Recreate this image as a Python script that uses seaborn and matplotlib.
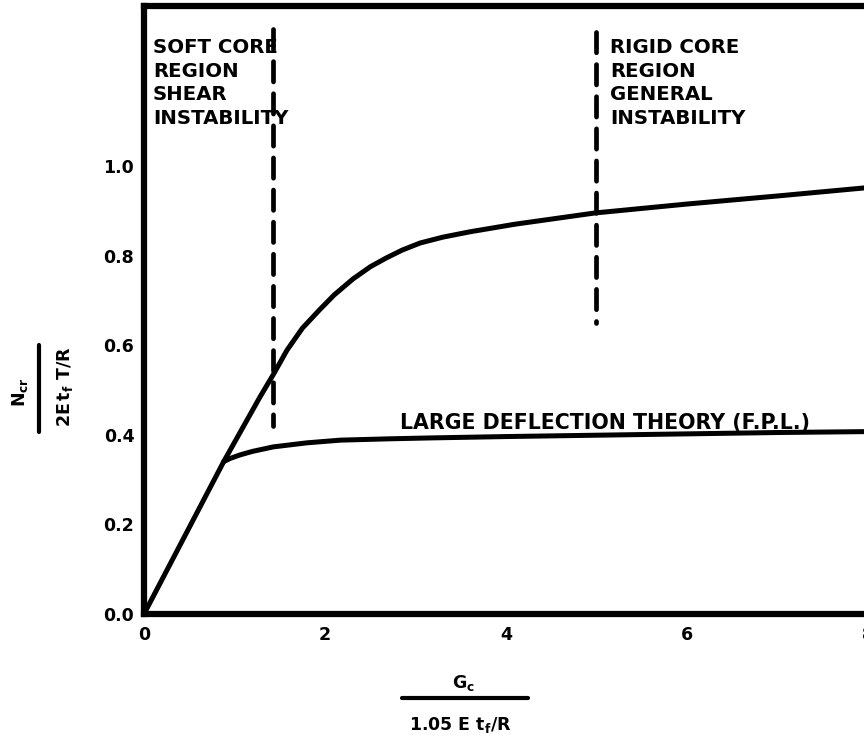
import matplotlib
matplotlib.use("Agg")
import matplotlib.pyplot as plt
import numpy as np
import seaborn as sns
from matplotlib.lines import Line2D

# core buckling curve (general / shear instability)
upper_x = [0, 0.88, 1.28, 1.43, 1.58, 1.75, 1.94, 2.1, 2.31, 2.5, 2.68, 2.85, 3.05, 3.3, 3.6, 4.1,
           4.98, 6.0, 6.5, 7.0, 7.96]
upper_y = [0, 0.34, 0.484, 0.535, 0.589, 0.638, 0.679, 0.712, 0.748, 0.775, 0.795, 0.812, 0.828,
           0.841, 0.853, 0.870, 0.895, 0.915, 0.924, 0.933, 0.951]

# large deflection theory (F.P.L.)
lower_x = [0.88, 0.95, 1.06, 1.2, 1.43, 1.80, 2.17, 2.72, 3.18, 4.0, 5.0, 6.0, 7.0, 7.96]
lower_y = [0.34, 0.347, 0.355, 0.363, 0.373, 0.382, 0.388, 0.391, 0.393, 0.396, 0.399, 0.402,
           0.405, 0.407]

# region boundaries (dashed, drawn top to bottom)
soft_x, soft_y = [1.43, 1.43], [1.305, 0.42]
rigid_x, rigid_y = [4.99, 4.99], [1.30, 0.65]

xticks = [0, 2, 4, 6, 8]
yticks = [0.0, 0.2, 0.4, 0.6, 0.8, 1.0]

sns.set_style("white")
plt.rcParams['font.family'] = ['DejaVu Sans']
plt.rcParams['font.weight'] = 'bold'
plt.rcParams['mathtext.fontset'] = 'dejavusans'
plt.rcParams['text.color'] = 'black'
plt.rcParams['xtick.color'] = 'black'
plt.rcParams['ytick.color'] = 'black'

fig = plt.figure(figsize=(8.64, 7.40), dpi=100)
ax = fig.add_axes([0.1667, 0.1703, 0.880, 0.8216])

lw = 3.6
sns.lineplot(x=upper_x, y=upper_y, sort=False, color='black', linewidth=lw, ax=ax)
sns.lineplot(x=lower_x, y=lower_y, sort=False, color='black', linewidth=lw, ax=ax)
for xs, ys in [(soft_x, soft_y), (rigid_x, rigid_y)]:
    l = ax.plot(xs, ys, color='black', linewidth=3.4, dash_capstyle='round')[0]
    l.set_dashes((4.3, 2.5))

ax.set_xlim(0, 8.4)
ax.set_ylim(0, 1.357)
ax.set_xticks(xticks)
ax.set_xticklabels([str(t) for t in xticks])
ax.set_yticks(yticks)
ax.set_yticklabels(['%.1f' % t for t in yticks])
ax.tick_params(axis='both', length=0, labelsize=12.5, colors='black')
ax.tick_params(axis='y', pad=7)
ax.tick_params(axis='x', pad=9)
for s in ['left', 'top', 'bottom', 'right']:
    ax.spines[s].set_linewidth(4.5)
    ax.spines[s].set_color('black')

txt = dict(fontsize=14.2, fontweight='bold', va='top', ha='left', linespacing=1.32, color='black')
ax.text(0.10, 1.286, "SOFT CORE\nREGION\nSHEAR\nINSTABILITY", **txt)
ax.text(5.15, 1.286, "RIGID CORE\nREGION\nGENERAL\nINSTABILITY", **txt)
ax.text(2.83, 0.412, "LARGE DEFLECTION THEORY (F.P.L.)", fontsize=14.8,
        fontweight='bold', va='baseline', ha='left', color='black')

# y label as fraction
fig.text(20 / 864, 1 - 392 / 740, r'$\mathbf{N_{cr}}$', rotation=90,
         ha='center', va='center', fontsize=12.5)
fig.text(65 / 864, 1 - 387 / 740, r'$\mathbf{2E\,t_f\ T/R}$', rotation=90,
         ha='center', va='center', fontsize=12.5)
fig.add_artist(Line2D([39 / 864, 39 / 864], [1 - 345 / 740, 1 - 432 / 740],
                      color='black', linewidth=3, transform=fig.transFigure))

# x label as fraction
fig.text(463 / 864, 1 - 683 / 740, r'$\mathbf{G_c}$', ha='center', va='center', fontsize=12.5)
fig.text(460 / 864, 1 - 725 / 740, r'$\mathbf{1.05\ E\ t_f/R}$', ha='center', va='center', fontsize=12.5)
fig.add_artist(Line2D([402 / 864, 528 / 864], [1 - 698 / 740, 1 - 698 / 740],
                      color='black', linewidth=3, transform=fig.transFigure))

fig.savefig('out.png', dpi=100)
